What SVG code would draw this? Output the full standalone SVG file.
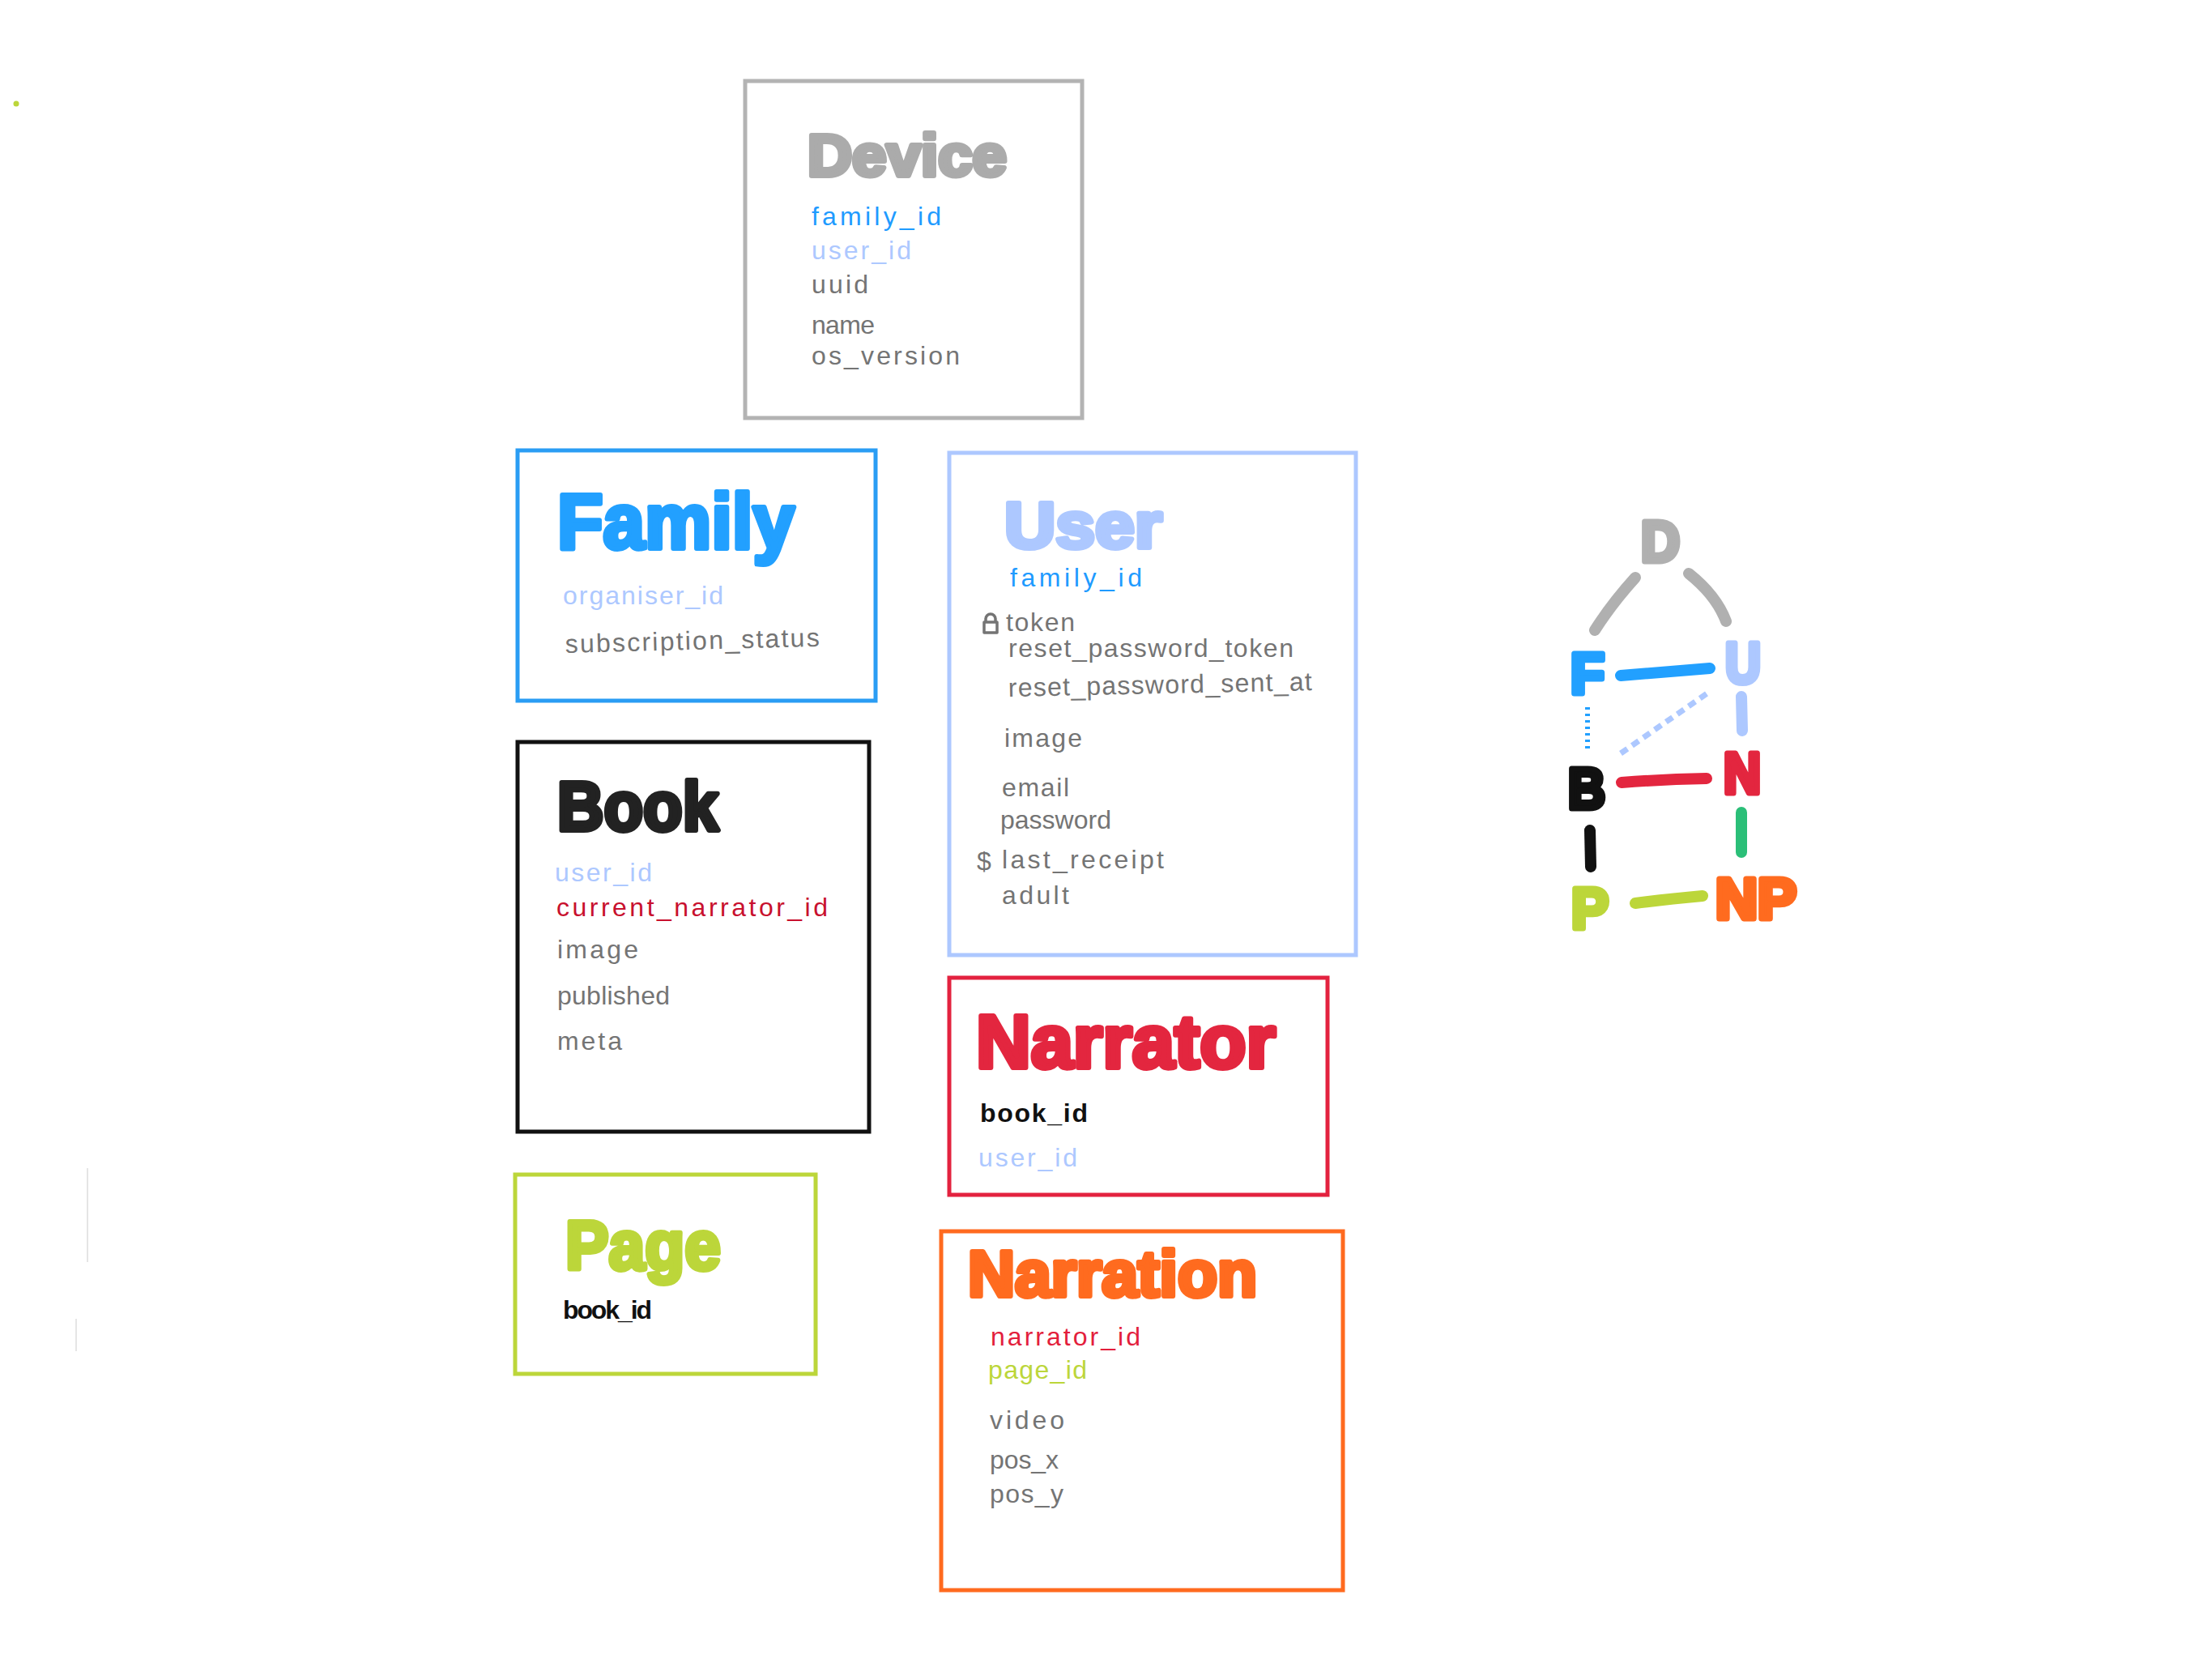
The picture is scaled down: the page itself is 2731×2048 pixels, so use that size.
<svg xmlns="http://www.w3.org/2000/svg" width="2731" height="2048" viewBox="0 0 2731 2048">
<style>
  .box { fill: #ffffff; stroke-width: 5; }
  .title { font-family: "Liberation Sans", "DejaVu Sans", sans-serif; font-weight: bold; stroke-width: 6; stroke-linejoin: round; }
  .f { font-family: "Liberation Sans", "DejaVu Sans", sans-serif; font-size: 32px; fill: #747474; }
  .blue { fill: #1f9bff; }
  .lblue { fill: #adc8ff; }
  .red { fill: #e31e3c; }
  .dred { fill: #c8102e; }
  .lime { fill: #bcd63a; }
  .blk { fill: #111111; font-weight: bold; }
  .letter { font-family: "Liberation Sans", "DejaVu Sans", sans-serif; font-weight: bold; font-size: 70px; stroke-width: 7; stroke-linejoin: round; }
  .edge { fill: none; stroke-width: 14; stroke-linecap: round; }
</style>
<rect x="0" y="0" width="2731" height="2048" fill="#ffffff"/>

<g id="decor">
  <circle cx="20" cy="128" r="3.5" fill="#bcd63a"/>
  <line x1="108" y1="1442" x2="108" y2="1558" stroke="#dddddd" stroke-width="1.5"/>
  <line x1="94" y1="1628" x2="94" y2="1668" stroke="#dddddd" stroke-width="1.5"/>
</g>

<g id="device">
  <rect class="box" x="920" y="100" width="416" height="416" stroke="#b3b3b3"/>
  <text class="title" x="997" y="217" font-size="72" fill="#ababab" stroke="#ababab" textLength="246" lengthAdjust="spacingAndGlyphs">Device</text>
  <text class="f blue" x="1002" y="278" textLength="160">family_id</text>
  <text class="f lblue" x="1002" y="320" textLength="123">user_id</text>
  <text class="f" x="1002" y="362" textLength="70">uuid</text>
  <text class="f" x="1002" y="412" textLength="78">name</text>
  <text class="f" x="1002" y="450" textLength="183">os_version</text>
</g>

<g id="family">
  <rect class="box" x="639" y="556" width="442" height="309" stroke="#2a9df4"/>
  <text class="title" x="688" y="677" font-size="96" fill="#22a0ff" stroke="#22a0ff" textLength="293" lengthAdjust="spacingAndGlyphs">Family</text>
  <text class="f lblue" x="695" y="746" textLength="198">organiser_id</text>
  <text class="f" x="698" y="806" textLength="314" transform="rotate(-1.5 698 806)">subscription_status</text>
</g>

<g id="user">
  <rect class="box" x="1172" y="559" width="502" height="620" stroke="#adc8ff"/>
  <text class="title" x="1240" y="676" font-size="80" fill="#adc8ff" stroke="#adc8ff" textLength="195" lengthAdjust="spacingAndGlyphs">User</text>
  <text class="f blue" x="1247" y="724" font-size="30" textLength="163">family_id</text>
  <path d="M1215 768 h16 v13 h-16 z M1217 768 v-4 a6 6 0 0 1 12 0 v4" fill="none" stroke="#747474" stroke-width="3.5" stroke-linejoin="round"/>
  <text class="f" x="1242" y="779" textLength="85">token</text>
  <text class="f" x="1245" y="811" textLength="352">reset_password_token</text>
  <text class="f" x="1245" y="860" textLength="375" transform="rotate(-1.2 1245 860)">reset_password_sent_at</text>
  <text class="f" x="1240" y="922" textLength="96">image</text>
  <text class="f" x="1237" y="983" textLength="83">email</text>
  <text class="f" x="1235" y="1023" textLength="137">password</text>
  <text class="f"><tspan x="1206" y="1074">$</tspan><tspan x="1237" y="1072" textLength="200">last_receipt</tspan></text>
  <text class="f" x="1237" y="1116" textLength="83">adult</text>
</g>

<g id="book">
  <rect class="box" x="639" y="916" width="434" height="481" stroke="#111111"/>
  <text class="title" x="688" y="1025" font-size="86" fill="#222222" stroke="#222222" textLength="199" lengthAdjust="spacingAndGlyphs">Book</text>
  <text class="f lblue" x="685" y="1088" textLength="120">user_id</text>
  <text class="f dred" x="687" y="1131" textLength="335">current_narrator_id</text>
  <text class="f" x="688" y="1183" textLength="100">image</text>
  <text class="f" x="688" y="1240" textLength="139">published</text>
  <text class="f" x="688" y="1296" textLength="80">meta</text>
</g>

<g id="page">
  <rect class="box" x="636" y="1450" width="371" height="246" stroke="#bcd63a"/>
  <text class="title" x="698" y="1567" font-size="86" fill="#bcd63a" stroke="#bcd63a" textLength="192" lengthAdjust="spacingAndGlyphs">Page</text>
  <text class="f blk" x="695" y="1628" font-size="26" textLength="110">book_id</text>
</g>

<g id="narrator">
  <rect class="box" x="1172" y="1207" width="467" height="268" stroke="#e3223f"/>
  <text class="title" x="1205" y="1318" font-size="92" fill="#e3263f" stroke="#e3263f" textLength="370" lengthAdjust="spacingAndGlyphs">Narrator</text>
  <text class="f blk" x="1210" y="1385" font-size="34" textLength="133">book_id</text>
  <text class="f lblue" x="1208" y="1440" textLength="122">user_id</text>
</g>

<g id="narration">
  <rect class="box" x="1162" y="1520" width="496" height="443" stroke="#ff6a1f"/>
  <text class="title" x="1195" y="1600" font-size="80" fill="#ff6b1f" stroke="#ff6b1f" textLength="357" lengthAdjust="spacingAndGlyphs">Narration</text>
  <text class="f red" x="1223" y="1661" textLength="185">narrator_id</text>
  <text class="f lime" x="1220" y="1702" textLength="122">page_id</text>
  <text class="f" x="1222" y="1764" textLength="92">video</text>
  <text class="f" x="1222" y="1813" textLength="85">pos_x</text>
  <text class="f" x="1222" y="1855" textLength="91">pos_y</text>
</g>

<g id="connectors">
  <path class="edge" d="M2019 713 Q1990 745 1969 778" stroke="#b0b0b0"/>
  <path class="edge" d="M2085 708 Q2119 735 2131 767" stroke="#b0b0b0"/>
  <path class="edge" d="M2001 834 L2111 825" stroke="#22a0ff"/>
  <path class="edge" d="M2150 860 L2151 902" stroke="#adc8ff"/>
  <path d="M1960 873 L1960 928" fill="none" stroke="#22a0ff" stroke-width="6" stroke-dasharray="3 5"/>
  <path d="M2001 930 L2112 853" fill="none" stroke="#adc8ff" stroke-width="7" stroke-dasharray="10 7"/>
  <path class="edge" d="M2002 966 Q2055 962 2107 961" stroke="#e3263f"/>
  <path class="edge" d="M1963 1025 L1964 1070" stroke="#111111"/>
  <path class="edge" d="M2150 1003 L2150 1052" stroke="#2bbf78"/>
  <path class="edge" d="M2019 1115 Q2058 1110 2102 1106" stroke="#bcd63a"/>
</g>

<g id="mini-D"><text class="letter" x="2026" y="693" fill="#b0b0b0" stroke="#b0b0b0" textLength="48" lengthAdjust="spacingAndGlyphs">D</text></g>
<g id="mini-F"><text class="letter" x="1939" y="856" fill="#22a0ff" stroke="#22a0ff" textLength="42" lengthAdjust="spacingAndGlyphs">F</text></g>
<g id="mini-U"><text class="letter" x="2130" y="843" fill="#adc8ff" stroke="#adc8ff" textLength="44" lengthAdjust="spacingAndGlyphs">U</text></g>
<g id="mini-B"><text class="letter" x="1936" y="998" fill="#111111" stroke="#111111" textLength="46" lengthAdjust="spacingAndGlyphs">B</text></g>
<g id="mini-N"><text class="letter" x="2128" y="979" fill="#e3263f" stroke="#e3263f" textLength="46" lengthAdjust="spacingAndGlyphs">N</text></g>
<g id="mini-P"><text class="letter" x="1940" y="1146" font-size="80" fill="#bcd63a" stroke="#bcd63a" textLength="46" lengthAdjust="spacingAndGlyphs">P</text></g>
<g id="mini-NP"><text class="letter" x="2118" y="1134" fill="#ff6b1f" stroke="#ff6b1f" textLength="100" lengthAdjust="spacingAndGlyphs">NP</text></g>
</svg>
